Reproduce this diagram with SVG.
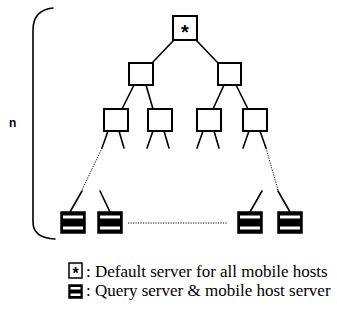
<svg xmlns="http://www.w3.org/2000/svg" width="337" height="324" viewBox="0 0 337 324">
<style>
.box{fill:#fff;stroke:#000;stroke-width:2}
.qs{fill:#000;stroke:#000;stroke-width:1.5}
.band{fill:#fff}
.ln{fill:none;stroke:#000;stroke-width:1.6;stroke-linecap:round}
.dot{fill:none;stroke:#000;stroke-width:1;stroke-dasharray:1.2 1.3}
.star{font-family:"Liberation Sans",Arial,sans-serif;font-weight:bold;text-anchor:middle}
.lg{font-family:"Liberation Serif","Times New Roman",serif;font-size:17px;fill:#000}
</style>
<g id="connectors">
<path class="ln" d="M174,40 L152,63 M196,40 L218,63"/>
<path class="ln" d="M134,85 L122,109 M146,85 L153,109 M224,85 L213,109 M236,85 L248,109"/>
<path class="ln" d="M108,131 L102,148 M119,131 L124,148"/>
<path class="ln" d="M153,131 L147,148 M164,131 L169,148"/>
<path class="ln" d="M203,131 L197,148 M214,131 L219,148"/>
<path class="ln" d="M249,131 L243,148 M260,131 L266,148"/>
<path class="dot" d="M102,148 L82,190 M266,148 L278,190"/>
<path class="ln" d="M82,191 L70,212 M100,191 L110,212 M262,191 L250,212 M278,191 L290,212"/>
<path class="dot" d="M128,223 L228,223"/>
<path class="ln" d="M53,8 Q33,10 33,30 L33,222 Q33,238 55,239"/>
</g>
<g id="root">
<rect class="box" x="173" y="16" width="24" height="24"/>
<text class="star" x="185" y="39" font-size="20">*</text>
</g>
<g id="l2a"><rect class="box" x="129" y="63" width="24" height="22"/></g>
<g id="l2b"><rect class="box" x="218" y="63" width="23" height="22"/></g>
<g id="l3a"><rect class="box" x="104" y="109" width="24" height="22"/></g>
<g id="l3b"><rect class="box" x="148" y="109" width="24" height="22"/></g>
<g id="l3c"><rect class="box" x="197" y="109" width="24" height="22"/></g>
<g id="l3d"><rect class="box" x="243" y="109" width="24" height="22"/></g>
<g id="q1"><rect class="qs" x="61" y="212" width="24" height="21"/><rect class="band" x="63" y="215.5" width="20" height="3"/><rect class="band" x="63" y="226.5" width="20" height="3"/></g>
<g id="q2"><rect class="qs" x="98" y="212" width="24" height="21"/><rect class="band" x="100" y="215.5" width="20" height="3"/><rect class="band" x="100" y="226.5" width="20" height="3"/></g>
<g id="q3"><rect class="qs" x="238" y="212" width="24" height="21"/><rect class="band" x="240" y="215.5" width="20" height="3"/><rect class="band" x="240" y="226.5" width="20" height="3"/></g>
<g id="q4"><rect class="qs" x="278" y="212" width="24" height="21"/><rect class="band" x="280" y="215.5" width="20" height="3"/><rect class="band" x="280" y="226.5" width="20" height="3"/></g>
<text x="9" y="127" font-family="Liberation Sans,Arial,sans-serif" font-size="12" font-weight="bold">n</text>
<g id="legend">
<rect class="box" x="69" y="263" width="13" height="15" style="stroke-width:1.5"/>
<text class="star" x="75.5" y="279" font-size="16">*</text>
<text class="lg" x="86" y="277">: Default server for all mobile hosts</text>
<rect class="qs" x="69" y="285" width="13" height="13"/>
<rect class="band" x="70.5" y="287" width="10" height="2.5"/>
<rect class="band" x="70.5" y="293.5" width="10" height="2.5"/>
<text class="lg" x="86" y="296">: Query server &amp; mobile host server</text>
</g>
</svg>
